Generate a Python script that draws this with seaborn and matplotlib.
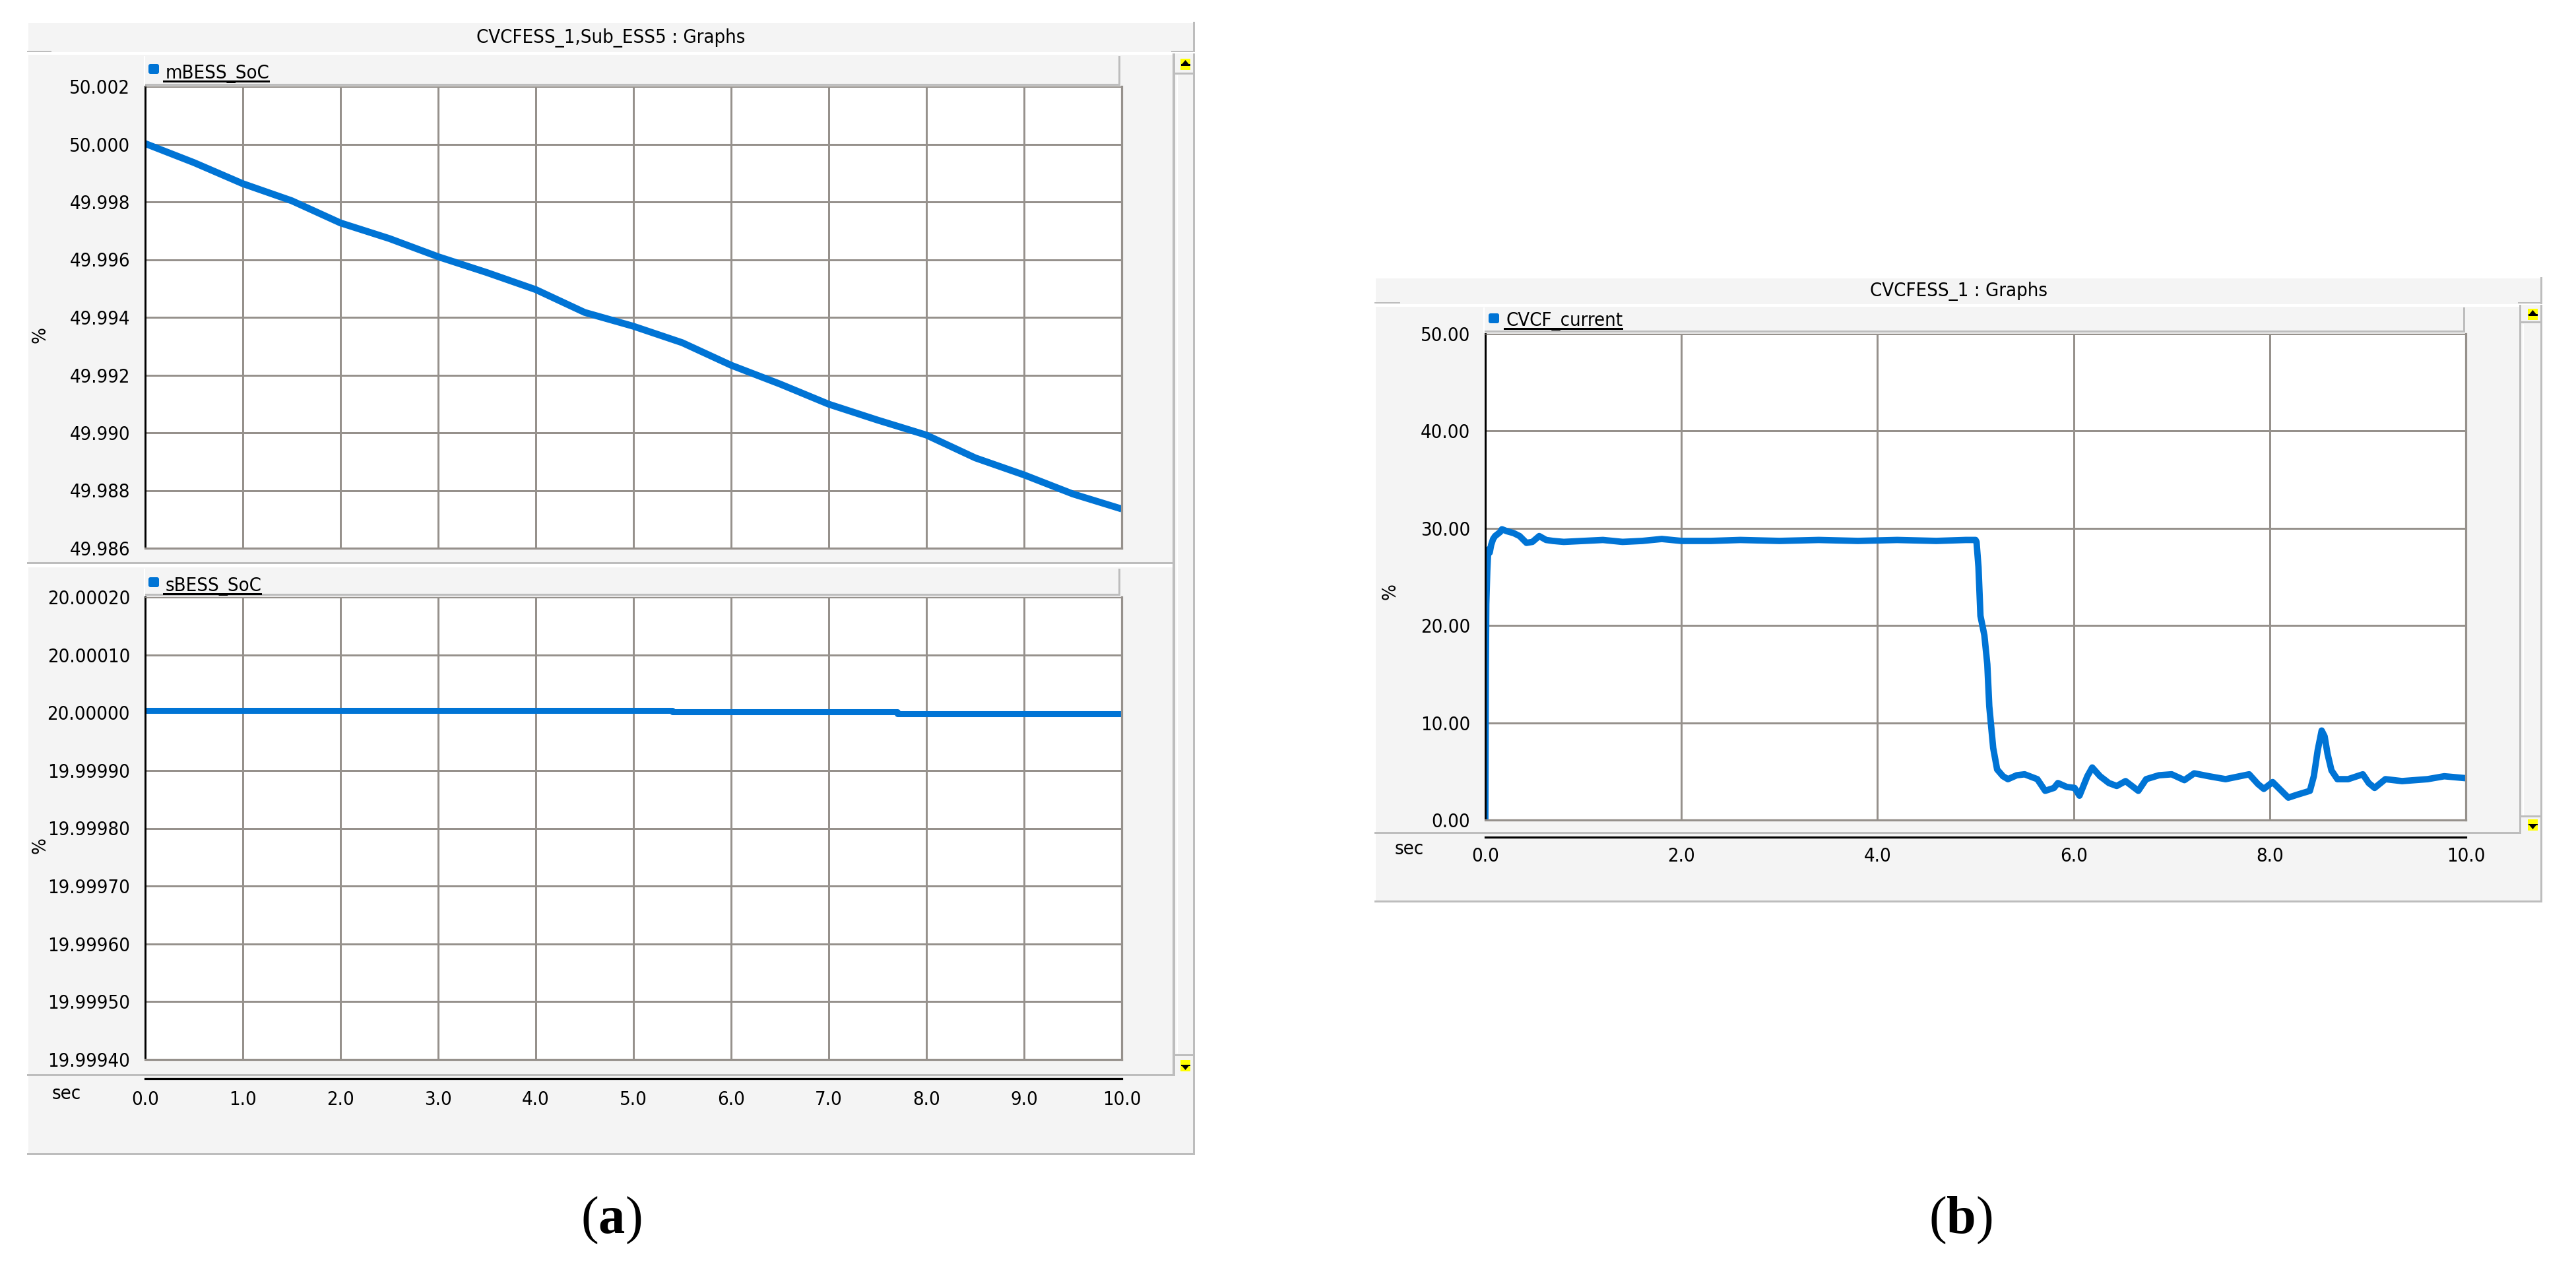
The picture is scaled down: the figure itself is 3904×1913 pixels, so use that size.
import os
import matplotlib
matplotlib.use("Agg")
import matplotlib.pyplot as plt
import seaborn as sns
from matplotlib import font_manager as fm
from matplotlib.patches import Rectangle, Polygon, FancyBboxPatch
from matplotlib.ticker import FormatStrFormatter

# ---------------- data ----------------
panel_titles = ["CVCFESS_1,Sub_ESS5 : Graphs", "CVCFESS_1 : Graphs"]
series_names = ["mBESS_SoC", "sBESS_SoC", "CVCF_current"]
caption_letters = ["a", "b"]
x_unit = "sec"
y_unit = "%"

xticks_a = [0.0, 1.0, 2.0, 3.0, 4.0, 5.0, 6.0, 7.0, 8.0, 9.0, 10.0]
xticks_b = [0.0, 2.0, 4.0, 6.0, 8.0, 10.0]

mbess_time = [0.0, 0.5, 1.0, 1.5, 2.0, 2.5, 3.0, 3.5, 4.0, 4.5, 5.0,
              5.5, 6.0, 6.5, 7.0, 7.5, 8.0, 8.5, 9.0, 9.5, 10.0]
mbess_soc = [50.00002, 49.99936, 49.99863, 49.99804, 49.99727, 49.99673,
             49.99610, 49.99555, 49.99496, 49.99417, 49.99369, 49.99312,
             49.99234, 49.99169, 49.99099, 49.99044, 49.98992, 49.98913,
             49.98854, 49.98788, 49.98736]
mbess_yticks = [49.986, 49.988, 49.990, 49.992, 49.994, 49.996, 49.998, 50.000, 50.002]

sbess_time = [0.0, 5.4, 7.7, 10.0]
sbess_soc = [20.0000039, 20.0000013, 19.9999980, 19.9999980]
sbess_yticks = [19.99940, 19.99950, 19.99960, 19.99970, 19.99980,
                19.99990, 20.00000, 20.00010, 20.00020]

cvcf_time = [0.0, 0.005, 0.01, 0.02, 0.03, 0.045, 0.06, 0.08, 0.1, 0.15,
             0.17, 0.22, 0.29, 0.35, 0.42, 0.48, 0.55, 0.62, 0.69, 0.8,
             1.0, 1.2, 1.4, 1.6, 1.8, 2.0, 2.3, 2.6, 3.0, 3.4,
             3.8, 4.2, 4.6, 4.9, 5.0, 5.01, 5.03, 5.05, 5.09, 5.12,
             5.14, 5.18, 5.22, 5.28, 5.33, 5.42, 5.5, 5.63, 5.71, 5.8,
             5.84, 5.93, 6.01, 6.06, 6.14, 6.19, 6.27, 6.36, 6.44, 6.53,
             6.66, 6.74, 6.87, 7.0, 7.13, 7.23, 7.38, 7.55, 7.79, 7.88,
             7.94, 8.03, 8.11, 8.19, 8.28, 8.41, 8.45, 8.49, 8.53, 8.56,
             8.59, 8.63, 8.69, 8.8, 8.95, 9.01, 9.07, 9.18, 9.35, 9.61,
             9.78, 10.0]
cvcf_current = [0.0, 15.2, 22.2, 25.6, 27.8, 27.5, 28.3, 28.9, 29.2, 29.6,
                29.9, 29.7, 29.5, 29.2, 28.5, 28.6, 29.2, 28.8, 28.7, 28.6,
                28.7, 28.8, 28.6, 28.7, 28.9, 28.7, 28.7, 28.8, 28.7, 28.8,
                28.7, 28.8, 28.7, 28.8, 28.8, 28.6, 26.0, 21.0, 19.0, 16.0,
                11.7, 7.4, 5.2, 4.5, 4.2, 4.6, 4.7, 4.2, 3.0, 3.3,
                3.8, 3.4, 3.3, 2.5, 4.5, 5.4, 4.5, 3.8, 3.5, 4.0,
                3.0, 4.2, 4.6, 4.7, 4.1, 4.8, 4.5, 4.2, 4.7, 3.7,
                3.2, 3.9, 3.1, 2.3, 2.6, 3.0, 4.5, 7.2, 9.2, 8.6,
                6.8, 5.1, 4.2, 4.2, 4.7, 3.8, 3.3, 4.2, 4.0, 4.2,
                4.5, 4.3]
cvcf_yticks = [0.0, 10.0, 20.0, 30.0, 40.0, 50.0]

# ---------------- style ----------------
W, H = 3904, 1913
PX = 0.72  # points per pixel at dpi 100
BLUE = "#0074D5"
PANEL_BG = "#F4F4F4"
BORDER = "#BDBDBD"
GRID = "#96918C"
YELLOW = "#FFFF00"

sns.set_style("white")

# look for a condensed DejaVu face (closer to the narrow UI font); fall back to DejaVu Sans
cond = [f for f in fm.fontManager.ttflist
        if os.path.basename(f.fname).lower() == "dejavusanscondensed.ttf"]
if cond:
    FONT = cond[0].name
    plt.rcParams["font.stretch"] = "condensed"
    TICK_FS = 21
else:
    FONT = "DejaVu Sans"
    TICK_FS = 19
plt.rcParams["font.family"] = [FONT, "DejaVu Sans"]
plt.rcParams["mathtext.fontset"] = "custom"
plt.rcParams["mathtext.rm"] = "Liberation Serif"
plt.rcParams["mathtext.bf"] = "Liberation Serif:bold"

fig = plt.figure(figsize=(W / 100, H / 100), dpi=100)
fig.patch.set_facecolor("white")


def frac(x0, y0, x1, y1):
    return [x0 / W, 1 - y1 / H, (x1 - x0) / W, (y1 - y0) / H]


bg = fig.add_axes([0, 0, 1, 1])
bg.set_xlim(0, W)
bg.set_ylim(H, 0)
bg.axis("off")
bg.set_zorder(0)


def rect(x0, y0, x1, y1, color):
    bg.add_patch(Rectangle((x0, y0), x1 - x0, y1 - y0, facecolor=color,
                           edgecolor="none", linewidth=0))


def txt(x, y, s, size=TICK_FS, **kw):
    return bg.text(x, y, s, fontsize=size, color="black", **kw)


def arrow_box(xc, y_top, up=True):
    rect(xc - 7.5, y_top, xc + 7.5, y_top + 17, YELLOW)
    if up:
        bg.add_patch(Polygon([(xc - 5, y_top + 8), (xc + 5, y_top + 8), (xc, y_top + 2)],
                             closed=True, fc="black", ec="none"))
        rect(xc - 7, y_top + 8, xc + 7, y_top + 10.5, "black")
    else:
        rect(xc - 7, y_top + 6.5, xc + 7, y_top + 9, "black")
        bg.add_patch(Polygon([(xc - 5, y_top + 9), (xc + 5, y_top + 9), (xc, y_top + 15)],
                             closed=True, fc="black", ec="none"))


renderer = fig.canvas.get_renderer()


def legend_entry(xm, ym, name, xt, baseline, uy):
    bg.add_patch(FancyBboxPatch((xm, ym), 16, 15,
                                boxstyle="round,pad=0,rounding_size=3",
                                fc=BLUE, ec="none"))
    t = txt(xt, baseline, name, ha="left", va="baseline")
    wpx = t.get_window_extent(renderer=renderer).width
    rect(xt - 4, uy - 1.5, xt + wpx, uy + 1.5, "black")


def plot_panel(box, t, v, yticks, yfmt, xticks, lw, **line_kws):
    x0, y0, x1, y1 = box
    ax = fig.add_axes(frac(x0, y0, x1, y1))
    ax.set_zorder(2)
    ax.set_facecolor("white")
    sns.lineplot(x=t, y=v, ax=ax, color=BLUE, linewidth=lw, errorbar=None,
                 legend=False, **line_kws)
    for ln in ax.get_lines():
        ln.set_solid_capstyle("butt")
    ax.set_xlim(xticks[0], xticks[-1])
    ax.set_ylim(yticks[0], yticks[-1])
    ax.set_yticks(yticks)
    ax.yaxis.set_major_formatter(FormatStrFormatter(yfmt))
    ax.set_xticks(xticks)
    ax.tick_params(axis="x", length=0, labelbottom=False)
    ax.tick_params(axis="y", direction="out", length=9 * PX, width=3 * PX,
                   color="black", labelsize=TICK_FS, pad=14 * PX, labelcolor="black")
    ax.grid(True, color=GRID, linewidth=3.0 * PX)
    ax.set_axisbelow(True)
    ax.spines["left"].set(color="black", linewidth=3 * PX, visible=True)
    ax.spines["right"].set(color=GRID, linewidth=3.2 * PX, visible=True)
    ax.spines["bottom"].set(color=GRID, linewidth=3.2 * PX, visible=True)
    ax.spines["top"].set(color=GRID, linewidth=1.3 * PX, visible=True)
    ax.set_xlabel("")
    ax.set_ylabel("")
    return ax


def x_strip(x0, x1, y_line, xticks, tick_len):
    ax = fig.add_axes(frac(x0, y_line - 2, x1, y_line))
    ax.set_zorder(2)
    ax.patch.set_visible(False)
    ax.set_xlim(xticks[0], xticks[-1])
    ax.set_xticks(xticks)
    ax.xaxis.set_major_formatter(FormatStrFormatter("%.1f"))
    ax.set_yticks([])
    for s in ("top", "left", "right"):
        ax.spines[s].set_visible(False)
    ax.spines["bottom"].set(color="black", linewidth=3.2 * PX, visible=True)
    ax.tick_params(axis="x", direction="out", length=tick_len * PX, width=3 * PX,
                   color="black", labelsize=TICK_FS, pad=4, labelcolor="black")
    return ax


# ================= panel (a) =================
# title strip
rect(43, 35, 1808, 79, PANEL_BG)
rect(1808, 33, 1811, 79, BORDER)
rect(41, 77, 78, 79, BORDER)
rect(1775, 77, 1811, 79, BORDER)
txt(926, 57, panel_titles[0], ha="center", va="center")

# plot regions
rect(43, 83, 1777, 852, PANEL_BG)
rect(41, 852, 1777, 855, BORDER)
rect(43, 860, 1777, 1628, PANEL_BG)
rect(41, 1628, 1811, 1631, BORDER)

# legend strips
rect(218, 85, 220, 130, "white")
rect(220, 127, 1698, 130, BORDER)
rect(1695, 85, 1698, 130, BORDER)
legend_entry(225, 97, series_names[0], 251, 119, 123)

rect(218, 862, 220, 903, "white")
rect(220, 900, 1698, 903, BORDER)
rect(1695, 862, 1698, 903, BORDER)
legend_entry(225, 875, series_names[1], 251, 896, 900)

# scrollbar
rect(1777, 81, 1781, 1631, BORDER)
rect(1781, 81, 1808, 1631, PANEL_BG)
rect(1783, 114, 1785, 1597, "white")
rect(1808, 81, 1811, 1631, BORDER)
rect(1781, 110, 1809, 113, BORDER)
arrow_box(1796.5, 89, up=True)
rect(1781, 1598, 1809, 1601, BORDER)
arrow_box(1796.5, 1607, up=False)

# x strip
rect(43, 1631, 1808, 1748, PANEL_BG)
rect(41, 1748, 1811, 1751, BORDER)
rect(1808, 1631, 1811, 1751, BORDER)
txt(101, 1658, x_unit, ha="center", va="center")

txt(60, 508, y_unit, rotation=90, ha="center", va="center")
txt(60, 1282, y_unit, rotation=90, ha="center", va="center")

plot_panel((220, 131, 1700, 831), mbess_time, mbess_soc, mbess_yticks, "%.3f", xticks_a, 7.5)
plot_panel((220, 905, 1700, 1606), sbess_time, sbess_soc, sbess_yticks, "%.5f", xticks_a, 6.5,
           drawstyle="steps-post")
x_strip(220, 1700, 1635, xticks_a, 12)

# ================= panel (b) =================
rect(2085, 422, 3850, 461, PANEL_BG)
rect(3850, 420, 3853, 461, BORDER)
rect(2083, 458, 2122, 460, BORDER)
rect(3816, 458, 3853, 460, BORDER)
txt(2968, 442, panel_titles[1], ha="center", va="center")

rect(2085, 465, 3818, 1261, PANEL_BG)
rect(2083, 1261, 3853, 1264, BORDER)

rect(2248, 466, 2250, 504, "white")
rect(2250, 501, 3736, 504, BORDER)
rect(3733, 466, 3736, 504, BORDER)
legend_entry(2256, 475, series_names[2], 2283, 494, 498)

rect(3818, 462, 3821, 1264, BORDER)
rect(3821, 462, 3850, 1264, PANEL_BG)
rect(3823, 491, 3825, 1236, "white")
rect(3850, 462, 3853, 1264, BORDER)
rect(3821, 487, 3851, 490, BORDER)
arrow_box(3838.5, 468, up=True)
rect(3821, 1236, 3851, 1239, BORDER)
arrow_box(3838.5, 1242, up=False)

rect(2085, 1264, 3850, 1365, PANEL_BG)
rect(2083, 1365, 3853, 1368, BORDER)
rect(3850, 1264, 3853, 1368, BORDER)
txt(2136, 1287, x_unit, ha="center", va="center")
txt(2107, 897, y_unit, rotation=90, ha="center", va="center")

plot_panel((2251, 506, 3737, 1243), cvcf_time, cvcf_current, cvcf_yticks, "%.2f", xticks_b, 7.0)
x_strip(2251, 3737, 1269, xticks_b, 9)

# ================= captions =================
for xc, letter in zip([926, 2971], caption_letters):
    bg.text(xc, 1850, "($\\mathbf{" + letter + "}$)", fontsize=58,
            family="Liberation Serif", ha="center", va="center", color="black")

fig.savefig("out.png", dpi=100, facecolor="white")
